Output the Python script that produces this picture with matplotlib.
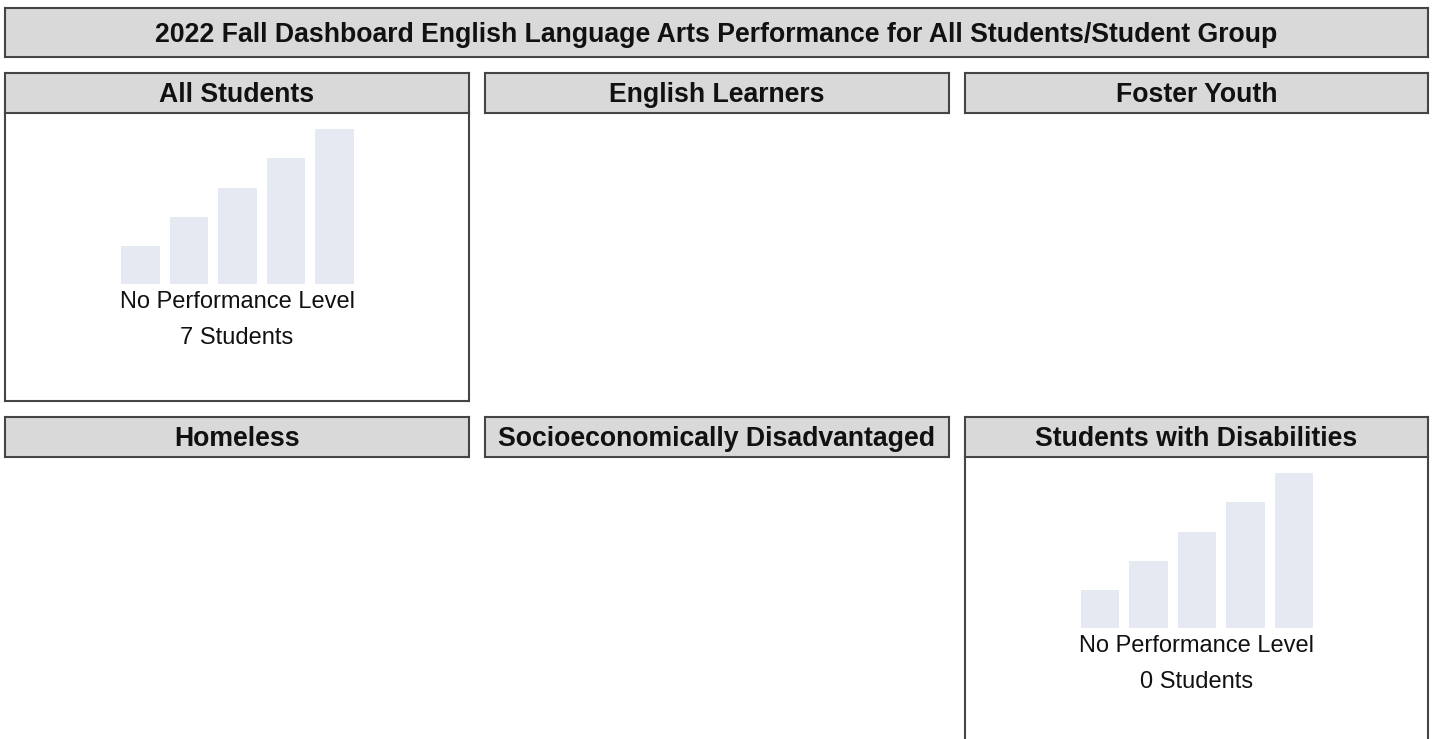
import matplotlib
matplotlib.use("Agg")
import matplotlib.pyplot as plt
from matplotlib.patches import Rectangle

plt.rcParams['font.family'] = ['Liberation Sans', 'DejaVu Sans']

# ---- data ----
chart_title = "2022 Fall Dashboard English Language Arts Performance for All Students/Student Group"
groups = ["All Students", "English Learners", "Foster Youth",
          "Homeless", "Socioeconomically Disadvantaged", "Students with Disabilities"]
student_counts = [7, None, None, None, None, 0]   # None = no data shown
status_label = "No Performance Level"
icon_levels = [1, 2, 3, 4, 5]
icon_heights = [38, 67, 96, 126, 155]

# ---- layout (pixels) ----
W, H = 1432, 739
fig = plt.figure(figsize=(W / 100, H / 100), dpi=100)
fig.patch.set_facecolor("white")

EDGE = "#454545"
HEAD_BG = "#d9d9d9"
BAR_C = "#e5e9f1"

def fr(x0, y0, x1, y1):
    return [x0 / W, 1 - y1 / H, (x1 - x0) / W, (y1 - y0) / H]

def box(x0, y0, x1, y1, fc, sides=("l", "r", "t", "b")):
    fig.patches.append(Rectangle((x0 / W, 1 - y1 / H), (x1 - x0) / W, (y1 - y0) / H,
                                 transform=fig.transFigure, facecolor=fc,
                                 edgecolor="none", zorder=1))
    segs = {"l": ([x0, x0], [y0, y1]), "r": ([x1, x1], [y0, y1]),
            "t": ([x0, x1], [y0, y0]), "b": ([x0, x1], [y1, y1])}
    for s in sides:
        xs, ys = segs[s]
        fig.add_artist(plt.Line2D([x / W for x in xs], [1 - y / H for y in ys],
                                  transform=fig.transFigure, color=EDGE, lw=1.5, zorder=3))

# title bar
box(5, 8, 1428, 57, HEAD_BG)
fig.text((5 + 1428) / 2 / W, 1 - 34.5 / H, chart_title, ha="center", va="center",
         fontsize=19.2, fontweight="bold", color="#111111")

cols = [(5, 469), (485, 949), (965, 1428)]
rows = [(73, 113, 401), (417, 457, 760)]

for i, name in enumerate(groups):
    r, c = divmod(i, 3)
    x0, x1 = cols[c]
    ht, hb, bb = rows[r]
    box(x0, ht, x1, hb, HEAD_BG)
    fig.text((x0 + x1) / 2 / W, 1 - ((ht + hb) / 2 + 2) / H, name, ha="center", va="center",
             fontsize=19.2, fontweight="bold", color="#111111")
    n = student_counts[i]
    if n is None:
        continue
    box(x0, hb, x1, bb, "white", sides=("l", "r", "b"))
    cx = (x0 + x1) / 2
    # bar icon
    bx0, bx1 = cx - 116, cx + 117
    btop, bbot = hb + 16, hb + 171
    ax = fig.add_axes(fr(bx0, btop, bx1, bbot))
    ax.bar(icon_levels, icon_heights, width=0.8, color=BAR_C)
    ax.set_xlim(0.6, 5.4)
    ax.set_ylim(0, max(icon_heights))
    ax.axis("off")
    ax.set_zorder(4)
    fig.text(cx / W, 1 - (hb + 189) / H, status_label, ha="center", va="center",
             fontsize=17, color="#111111", zorder=5)
    fig.text(cx / W, 1 - (hb + 225) / H, f"{n} Students", ha="center", va="center",
             fontsize=17, color="#111111", zorder=5)

fig.savefig("out.png", dpi=100, facecolor="white")
